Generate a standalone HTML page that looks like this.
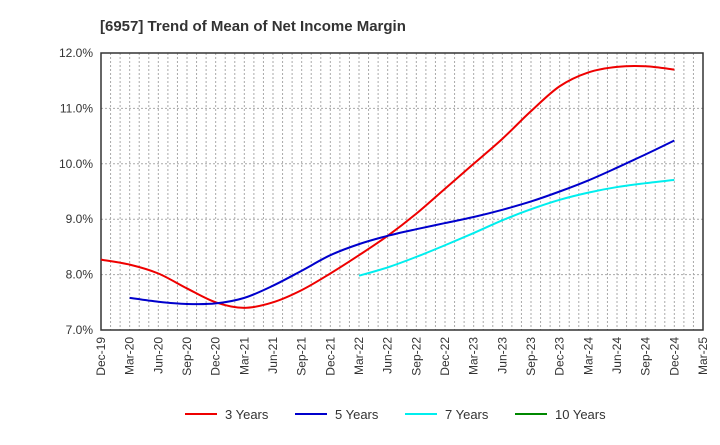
<!DOCTYPE html>
<html><head><meta charset="utf-8"><style>
body{margin:0;background:#fff;font-family:"Liberation Sans",sans-serif}
svg text{font-family:"Liberation Sans",sans-serif}
</style></head><body>
<svg id="chart" width="720" height="440" xmlns="http://www.w3.org/2000/svg">
<text x="100" y="31" font-size="15" font-weight="bold" fill="#333">[6957]  Trend of Mean of Net Income Margin</text>
<g id="grid"></g><g id="axes"></g><g id="series"></g><g id="legend"></g>
</svg>
<script>
const quarters=["Dec-19","Mar-20","Jun-20","Sep-20","Dec-20","Mar-21","Jun-21","Sep-21","Dec-21","Mar-22","Jun-22","Sep-22","Dec-22","Mar-23","Jun-23","Sep-23","Dec-23","Mar-24","Jun-24","Sep-24","Dec-24","Mar-25"];
const yTicks=[7,8,9,10,11,12];
const s3=[8.27,8.18,8.02,7.75,7.5,7.4,7.5,7.72,8.02,8.35,8.7,9.1,9.55,10.0,10.45,10.95,11.4,11.65,11.75,11.76,11.7];
const s5=[null,7.58,7.51,7.47,7.48,7.58,7.8,8.07,8.35,8.55,8.7,8.82,8.93,9.04,9.17,9.32,9.5,9.7,9.93,10.17,10.42];
const s7=[null,null,null,null,null,null,null,null,null,7.98,8.13,8.32,8.53,8.75,8.98,9.18,9.35,9.48,9.58,9.65,9.71];
const s10=[];
const L=101,R=703,T=53,B=330;
const x=i=>L+i*(R-L)/(quarters.length-1);
const y=v=>B-(v-7)/(12-7)*(B-T);
const NS="http://www.w3.org/2000/svg";
function mk(t,a,p){const e=document.createElementNS(NS,t);for(const k in a)e.setAttribute(k,a[k]);p.appendChild(e);return e;}
const grid=document.getElementById('grid'),axes=document.getElementById('axes'),ser=document.getElementById('series'),leg=document.getElementById('legend');
for(let m=1;m<63;m++){const xx=L+m*(R-L)/63;const g=mk('line',{x1:xx,x2:xx,y1:T,y2:B,stroke:'#aaa','stroke-dasharray':'2,2','stroke-width':1},grid);

}
yTicks.forEach(v=>{if(v>7&&v<12){const g=mk('line',{x1:L,x2:R,y1:y(v),y2:y(v),stroke:'#aaa','stroke-dasharray':'2,2'},grid);

}
const t=mk('text',{x:L-8,y:y(v)+4,'text-anchor':'end','font-size':12,fill:'#333'},axes);t.textContent=v.toFixed(1)+'%';

});
const fr=mk('rect',{x:L,y:T,width:R-L,height:B-T,fill:'none',stroke:'#333','stroke-width':1.5},axes);


quarters.forEach((q,i)=>{const t=mk('text',{transform:`translate(${x(i)+4},${B+7}) rotate(-90)`,'text-anchor':'end','font-size':12,fill:'#333'},axes);t.textContent=q;

});
function path(d){const p=[];d.forEach((v,i)=>{if(v!=null)p.push([x(i),y(v)]);});if(p.length<2)return '';
let s=`M${p[0][0]},${p[0][1]}`;for(let i=0;i<p.length-1;i++){const p0=p[i-1]||p[i],p1=p[i],p2=p[i+1],p3=p[i+2]||p2;
s+=` C${p1[0]+(p2[0]-p0[0])/6},${p1[1]+(p2[1]-p0[1])/6} ${p2[0]-(p3[0]-p1[0])/6},${p2[1]-(p3[1]-p1[1])/6} ${p2[0]},${p2[1]}`;}return s;}
const series=[[s3,'#e00','3 Years','series-3-years'],[s5,'#00c','5 Years','series-5-years'],[s7,'#0ee','7 Years','series-7-years'],[s10,'#080','10 Years','series-10-years']];
series.forEach((s,k)=>{const d=path(s[0]);if(d){const e=mk('path',{d:d,fill:'none',stroke:s[1],'stroke-width':2},ser);

}
const lx=185+k*110;
const g=mk('g',{},leg);


mk('line',{x1:lx,x2:lx+32,y1:414,y2:414,stroke:s[1],'stroke-width':2},g);
const t=mk('text',{x:lx+40,y:419,'font-size':13,fill:'#333'},g);t.textContent=s[2];});
</script>
</body></html>
